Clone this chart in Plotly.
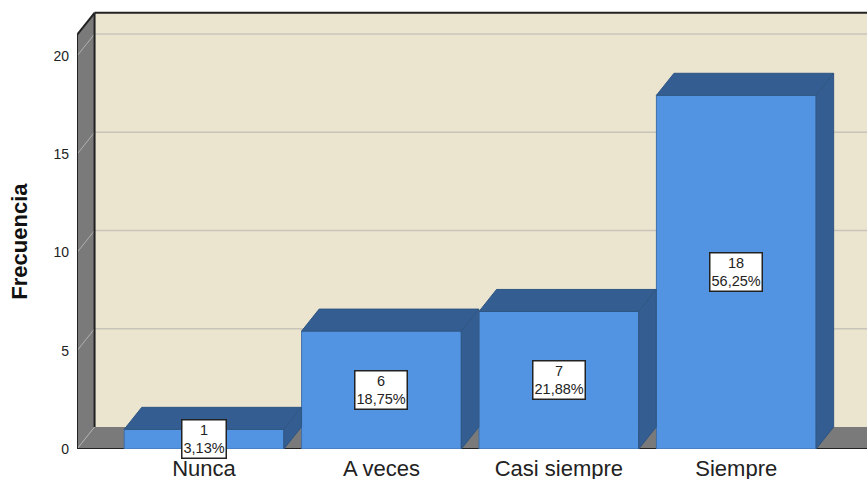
import plotly.graph_objects as go

categorias = ["Nunca", "A veces", "Casi siempre", "Siempre"]
frecuencia = [1, 6, 7, 18]
porcentajes = ["3,13%", "18,75%", "21,88%", "56,25%"]
ticks_y = [0, 5, 10, 15, 20]

# profundidad del efecto 3D, en unidades de los ejes
DX = 0.099
DY = 1.12
ANCHO = 0.9
X_MIN, X_MAX = -0.716, 3.737
Y_MAX = 22.85
Y_TECHO = 21.08

AZUL = "#5294E2"
AZUL_OSCURO = "#345E91"
CREMA = "#EBE5D0"
GRIS = "#7A7A7A"


def poligono(puntos):
    return "M " + " L ".join(f"{x},{y}" for x, y in puntos) + " Z"


shapes = []


def forma(puntos, fill, line="rgba(0,0,0,0)", width=1):
    shapes.append(dict(type="path", path=poligono(puntos), xref="x", yref="y", layer="below",
                       fillcolor=fill, line=dict(color=line, width=width)))


def linea(x0, y0, x1, y1, color, width=1):
    shapes.append(dict(type="line", x0=x0, y0=y0, x1=x1, y1=y1, xref="x", yref="y", layer="below",
                       line=dict(color=color, width=width)))


# pared del fondo, pared izquierda y suelo
forma([(X_MIN + DX, DY), (X_MAX, DY), (X_MAX, Y_TECHO + DY), (X_MIN + DX, Y_TECHO + DY)], CREMA)
forma([(X_MIN, 0), (X_MIN + DX, DY), (X_MIN + DX, Y_TECHO + DY), (X_MIN, Y_TECHO)], GRIS)
forma([(X_MIN, 0), (X_MAX, 0), (X_MAX, DY), (X_MIN + DX, DY)], GRIS)

# rejilla
for t in ticks_y[1:]:
    linea(X_MIN + DX, t + DY, X_MAX, t + DY, "#C9C4BA", 1.5)
    linea(X_MIN, t, X_MIN + DX, t + DY, "#B0B0B0", 1)
linea(X_MIN, 0, X_MIN + DX, DY, "#B0B0B0", 1)

# contornos
linea(X_MIN, 0, X_MIN, Y_TECHO, "#222222", 2)
linea(X_MIN, Y_TECHO, X_MIN + DX, Y_TECHO + DY, "#222222", 2)
linea(X_MIN + DX, Y_TECHO + DY, X_MAX, Y_TECHO + DY, "#222222", 2)
linea(X_MIN + DX, DY, X_MIN + DX, Y_TECHO + DY, "#222222", 2)
linea(X_MIN, 0, X_MAX, 0, "#222222", 2)

fig = go.Figure()

posiciones = list(range(len(categorias)))

fig.add_trace(go.Bar(x=posiciones, y=frecuencia, width=ANCHO, marker=dict(color=AZUL, line=dict(color="#3F6FA8", width=1)),
                     showlegend=False, hoverinfo="skip"))

# cara superior y lateral de cada barra
for i, v in zip(posiciones, frecuencia):
    izq, der = i - ANCHO / 2, i + ANCHO / 2
    fig.add_trace(go.Scatter(x=[izq, der, der + DX, izq + DX, izq], y=[v, v, v + DY, v + DY, v],
                             mode="lines", fill="toself", fillcolor=AZUL_OSCURO,
                             line=dict(color="#2F5583", width=1), showlegend=False, hoverinfo="skip"))
    fig.add_trace(go.Scatter(x=[der, der + DX, der + DX, der, der], y=[0, DY, v + DY, v, 0],
                             mode="lines", fill="toself", fillcolor=AZUL_OSCURO,
                             line=dict(color="#2F5583", width=1), showlegend=False, hoverinfo="skip"))

# etiquetas de valor
for i, v, p in zip(posiciones, frecuencia, porcentajes):
    fig.add_annotation(x=i, y=v / 2, text=f"{v}<br>{p}", showarrow=False, xanchor="center", yanchor="middle",
                       align="center", bgcolor="white", bordercolor="#222222", borderwidth=1.5, borderpad=1,
                       font=dict(family="Liberation Sans", size=14.5, color="#222222"))

# titulo del eje y, centrado como en el original
fig.add_annotation(xref="paper", x=-0.0722, y=10.6, text="<b>Frecuencia</b>", textangle=-90, showarrow=False,
                   xanchor="center", yanchor="middle", font=dict(family="Liberation Sans", size=22, color="#111111"))

fig.update_layout(
    width=867,
    height=479,
    margin=dict(l=77, r=0, t=0, b=30),
    paper_bgcolor="white",
    plot_bgcolor="white",
    font=dict(family="Liberation Sans", color="#222222"),
    shapes=shapes,
    xaxis=dict(range=[X_MIN, X_MAX], tickmode="array", tickvals=posiciones, ticktext=categorias, automargin=False,
               tickfont=dict(size=22), ticklabelstandoff=4, showgrid=False, zeroline=False, ticks="", showline=False),
    yaxis=dict(range=[0, Y_MAX], tickmode="array", tickvals=ticks_y, ticktext=[str(t) for t in ticks_y], automargin=False,
               tickfont=dict(size=14), ticklabelstandoff=7, showgrid=False, zeroline=False, ticks="", showline=False),
)

fig.write_html("out.html", config=dict(displayModeBar=False), post_script="document.body.style.margin = '0';")
